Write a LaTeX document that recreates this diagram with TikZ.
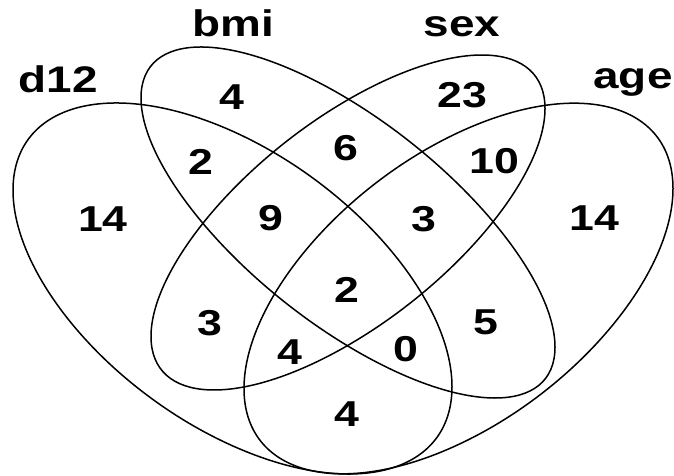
\documentclass[tikz,border=0pt]{standalone}
\usepackage{fontspec}
\setmainfont{Liberation Sans}
\usepackage{graphicx}
\newcommand\hstretchtxt[1]{\scalebox{1.24}[1]{#1}}
\begin{document}
\begin{tikzpicture}[x=1pt,y=1pt,
  venn/.style={line width=1.5pt, draw=black},
  num/.style={font=\fontsize{36}{40}\selectfont\bfseries, inner sep=0pt},
  lab/.style={font=\fontsize{37}{40}\selectfont\bfseries, inner sep=0pt, anchor=base}]
\useasboundingbox (0,0) rectangle (674,476);
% ellipses
\draw[venn, cm={219.5,-98.3,0,157.3,(232.5,187.5)}] (0,0) circle [radius=1];
\draw[venn, cm={207,-124.6,0,123.6,(348,253.5)}] (0,0) circle [radius=1];
\draw[venn, cm={197,113.9,0,122.8,(348,253.5)}] (0,0) circle [radius=1];
\draw[venn, cm={214.5,100,0,156,(458.5,187.5)}] (0,0) circle [radius=1];
% set labels
\node[lab] (ld12) at (58,383) {\hstretchtxt{d12}};
\node[lab] (lbmi) at (233,439) {\hstretchtxt{bmi}};
\node[lab] (lsex) at (462,439) {\hstretchtxt{sex}};
\node[lab] (lage) at (633,387) {\hstretchtxt{age}};
% region counts
\node[num] (c1) at (232,379) {\hstretchtxt{4}};
\node[num] (c2) at (462,381) {\hstretchtxt{23}};
\node[num] (c3) at (201,314) {\hstretchtxt{2}};
\node[num] (c4) at (346,328) {\hstretchtxt{6}};
\node[num] (c5) at (494,315) {\hstretchtxt{10}};
\node[num] (c6) at (103,257) {\hstretchtxt{14}};
\node[num] (c7) at (271,258) {\hstretchtxt{9}};
\node[num] (c8) at (424,257) {\hstretchtxt{3}};
\node[num] (c9) at (594,258) {\hstretchtxt{14}};
\node[num] (c10) at (347,186) {\hstretchtxt{2}};
\node[num] (c11) at (210,153) {\hstretchtxt{3}};
\node[num] (c12) at (486,154) {\hstretchtxt{5}};
\node[num] (c13) at (290,124) {\hstretchtxt{4}};
\node[num] (c14) at (406,127) {\hstretchtxt{0}};
\node[num] (c15) at (347,62) {\hstretchtxt{4}};
\end{tikzpicture}
\end{document}
